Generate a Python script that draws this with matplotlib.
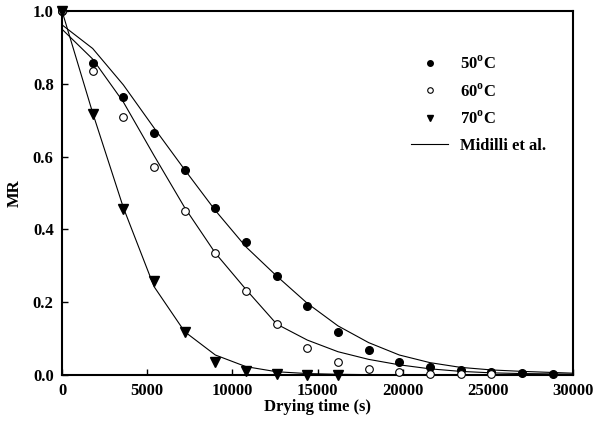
import matplotlib
matplotlib.use('Agg')
import matplotlib.pyplot as plt
from matplotlib.lines import Line2D

plt.rcParams['font.family'] = ['Liberation Serif', 'DejaVu Serif']
plt.rcParams['font.weight'] = 'bold'
plt.rcParams['mathtext.fontset'] = 'custom'
plt.rcParams['mathtext.rm'] = 'Liberation Serif'
plt.rcParams['mathtext.bf'] = 'Liberation Serif:bold'

# measured points (every 1800 s)
t50 = [0, 1800, 3600, 5400, 7200, 9000, 10800, 12600, 14400, 16200,
       18000, 19800, 21600, 23400, 25200, 27000, 28800]
mr50 = [1.0, 0.858, 0.764, 0.665, 0.562, 0.459, 0.366, 0.271, 0.19, 0.118,
        0.069, 0.037, 0.021, 0.013, 0.009, 0.005, 0.004]

t60 = [0, 1800, 3600, 5400, 7200, 9000, 10800, 12600, 14400, 16200,
       18000, 19800, 21600, 23400, 25200]
mr60 = [1.0, 0.836, 0.708, 0.571, 0.451, 0.334, 0.23, 0.14, 0.074, 0.035,
        0.016, 0.008, 0.004, 0.004, 0.003]

t70 = [0, 1800, 3600, 5400, 7200, 9000, 10800, 12600, 14400, 16200]
mr70 = [1.0, 0.718, 0.457, 0.257, 0.117, 0.036, 0.011, 0.003, 0.0, 0.0]

# Midilli et al. predicted values
tm = [0, 1800, 3600, 5400, 7200, 9000, 10800, 12600, 14400, 16200,
      18000, 19800, 21600, 23400, 25200, 27000, 28800, 30000]
pred50 = [0.962, 0.897, 0.797, 0.679, 0.564, 0.452, 0.352, 0.272, 0.197, 0.135,
          0.089, 0.055, 0.034, 0.021, 0.014, 0.01, 0.007, 0.005]
pred60 = [0.950, 0.868, 0.75, 0.603, 0.46, 0.335, 0.235, 0.14, 0.096, 0.064,
          0.043, 0.028, 0.017, 0.01, 0.006, 0.004, 0.003, 0.002]
pred70 = [1.0, 0.72, 0.46, 0.243, 0.119, 0.055, 0.023, 0.009, 0.004, 0.002,
          0.001, 0.001, 0.0, 0.0, 0.0, 0.0, 0.0, 0.0]

fig = plt.figure(figsize=(5.97, 4.25), dpi=100)
ax = fig.add_axes([0.1039, 0.1176, 0.856, 0.8565])

lw = 0.8
ax.plot(tm, pred50, color='black', lw=lw)
ax.plot(tm, pred60, color='black', lw=lw)
ax.plot(tm, pred70, color='black', lw=lw)

ax.plot(t50, mr50, 'o', color='black', ms=5.5, clip_on=False, zorder=5)
ax.plot(t60, mr60, 'o', mfc='white', mec='black', mew=0.8, ms=5.5, clip_on=False, zorder=5)
ax.plot(t70, mr70, 'v', color='black', ms=6.5, clip_on=False, zorder=5)

ax.set_xlim(0, 30000)
ax.set_ylim(0, 1.0)
ax.set_xticks([0, 5000, 10000, 15000, 20000, 25000, 30000])
ax.set_yticks([0.0, 0.2, 0.4, 0.6, 0.8, 1.0])
ax.set_yticklabels(['0.0', '0.2', '0.4', '0.6', '0.8', '1.0'])
ax.tick_params(direction='in', length=4, width=1, labelsize=12, pad=6)
for s in ax.spines.values():
    s.set_linewidth(1.5)

ax.set_xlabel('Drying time (s)', fontsize=12, fontweight='bold', labelpad=0)
ax.set_ylabel('MR', fontsize=12, fontweight='bold', labelpad=7)

handles = [
    Line2D([], [], ls='none', marker='o', color='black', ms=4),
    Line2D([], [], ls='none', marker='o', mfc='white', mec='black', mew=0.8, ms=4),
    Line2D([], [], ls='none', marker='v', color='black', ms=5),
    Line2D([], [], color='black', lw=lw),
]
labels = ['50$^{\\mathbf{o}}$C', '60$^{\\mathbf{o}}$C', '70$^{\\mathbf{o}}$C', 'Midilli et al.']
leg = ax.legend(handles, labels, loc='upper left', bbox_to_anchor=(0.654, 0.92),
                frameon=False, fontsize=12, labelspacing=0.62, handlelength=2.2,
                handletextpad=0.72)

fig.savefig('out.png', dpi=100)
